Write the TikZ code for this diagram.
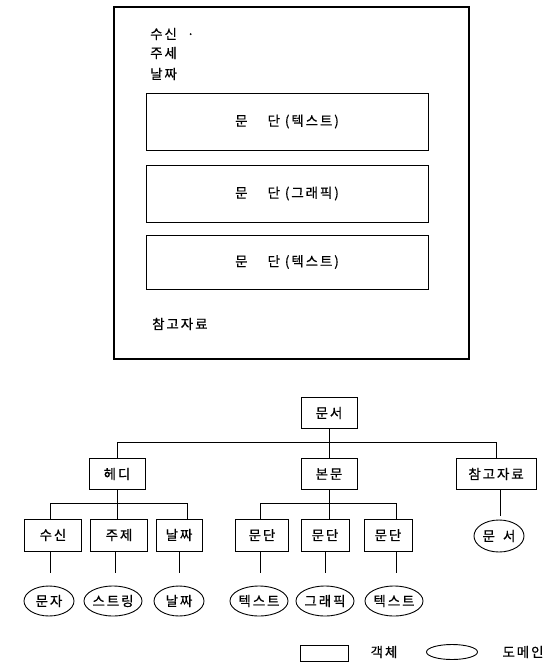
\documentclass[tikz,border=0pt]{standalone}
\usepackage{fontspec}
\newfontfamily\kr[LetterSpace=14, FakeBold=0.5]{Noto Sans CJK KR}
\usetikzlibrary{shapes.geometric}
\begin{document}
\begin{tikzpicture}[x=1pt,y=-1pt,
  every node/.style={font=\kr\fontsize{13.5}{16}\selectfont, inner sep=0pt},
  obj/.style={draw, line width=0.9pt, minimum height=31pt, inner sep=0pt},
  para/.style={draw, line width=0.9pt, minimum width=282pt, inner sep=0pt},
  dom/.style={draw, ellipse, line width=0.9pt, minimum width=50pt, minimum height=30pt, inner sep=0pt},
  conn/.style={line width=0.8pt},
  gap/.style={conn, shorten >=4pt}]
\useasboundingbox (0,0) rectangle (559,662);

% ---------- upper page layout ----------
\draw[line width=1.2pt] (114,7) rectangle (469,359);
\node[anchor=west] (recv) at (150,34) {수신\hspace{10pt}·};
\node[anchor=west] (subj) at (150,53) {주세};
\node[anchor=west] (date) at (150,74) {날짜};
\node[para, minimum height=57pt] (pa) at (287,121.5) {문\hspace{20pt}단 (텍스트)};
\node[para, minimum height=57pt] (pb) at (287,193.5) {문\hspace{20pt}단 (그래픽)};
\node[para, minimum height=54pt] (pc) at (287,262) {문\hspace{20pt}단 (텍스트)};
\node[anchor=west] (refs) at (152,324) {참고자료};

% ---------- tree ----------
\node[obj, minimum width=56pt] (doc) at (329,413) {문서};
\node[obj, minimum width=56pt] (hdr) at (117,474) {헤디};
\node[obj, minimum width=56pt] (body) at (329,474) {본문};
\node[obj, minimum width=80pt] (ref) at (496,474) {참고자료};

\draw[conn] (doc.south) -- (body.north);
\draw[conn] (hdr.north) -- ++(0,-16) -| (ref.north);

\node[obj, minimum width=57pt, minimum height=32pt] (c1) at (53,535) {수신};
\node[obj, minimum width=57pt, minimum height=32pt] (c2) at (119,535) {주제};
\node[obj, minimum width=46pt, minimum height=32pt] (c3) at (179,535) {날짜};
\node[obj, minimum width=53pt, minimum height=32pt] (c4) at (262,535) {문단};
\node[obj, minimum width=48pt, minimum height=32pt] (c5) at (325,535) {문단};
\node[obj, minimum width=48pt, minimum height=32pt] (c6) at (388,535) {문단};

\draw[conn] ([xshift=-3pt]c1.north) -- ++(0,-15) -| ([xshift=8pt]c3.north);
\draw[conn] (hdr.south) -- (hdr.south |- c2.north);
\draw[conn] ([xshift=-2pt]c4.north) -- ++(0,-15) -| ([xshift=8pt]c6.north);
\draw[conn] (body.south) -- (body.south |- c5.north);

\node[dom] (e1) at (49,601) {문자};
\node[dom] (e2) at (113,601) {스트링};
\node[dom] (e3) at (179,601) {날짜};
\node[dom] (e4) at (259,601) {텍스트};
\node[dom] (e5) at (325,601) {그래픽};
\node[dom] (e6) at (394,601) {텍스트};
\node[dom, minimum height=32pt] (e7) at (499,536) {문\hspace{8pt}서};

\draw[gap] ([xshift=-3pt]c1.south) -- ++(0,26);
\draw[gap] ([xshift=-4pt]c2.south) -- ++(0,26);
\draw[gap] (c3.south) -- ++(0,26);
\draw[gap] ([xshift=-2pt]c4.south) -- ++(0,26);
\draw[gap] (c5.south) -- ++(0,26);
\draw[gap] ([xshift=8pt]c6.south) -- ++(0,26);
\draw[gap] ([xshift=4pt]ref.south) -- ([xshift=4pt]ref.south |- e7.north);

% ---------- legend ----------
\node[obj, minimum width=48pt, minimum height=16pt] (lo) at (324,653) {};
\node (lot) at (384,652) {객체};
\node[dom, minimum width=51pt, minimum height=15pt] (ld) at (452,652) {};
\node (ldt) at (523,652) {도메인};
\end{tikzpicture}
\end{document}
